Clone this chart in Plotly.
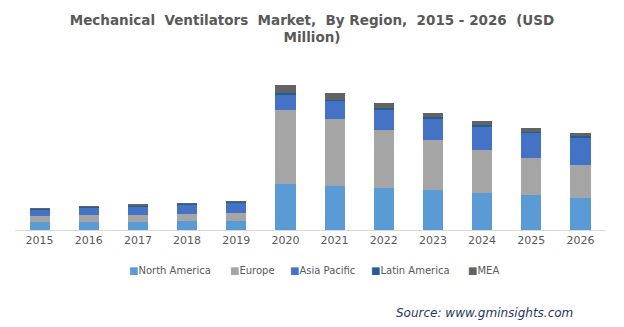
import plotly.graph_objects as go

years = ["2015", "2016", "2017", "2018", "2019", "2020", "2021", "2022", "2023", "2024", "2025", "2026"]
north_america = [400, 400, 400, 450, 450, 2300, 2200, 2100, 2000, 1850, 1750, 1600]
europe = [300, 350, 350, 350, 400, 3700, 3350, 2900, 2500, 2150, 1850, 1650]
asia_pacific = [300, 350, 420, 450, 500, 750, 900, 1000, 1050, 1150, 1250, 1350]
latin_america = [50, 50, 50, 50, 50, 120, 60, 100, 100, 100, 50, 100]
mea = [50, 50, 50, 50, 50, 380, 350, 250, 200, 200, 200, 150]

series = [
    ("North America", north_america, "#5B9BD5"),
    ("Europe", europe, "#A5A5A5"),
    ("Asia Pacific", asia_pacific, "#4472C4"),
    ("Latin America", latin_america, "#255E91"),
    ("MEA", mea, "#636363"),
]
# legend entry left edges (paper fraction)
legend_x = [0.1915, 0.3627, 0.4644, 0.6017, 0.7661]

fig = go.Figure()
for name, vals, color in series:
    fig.add_trace(go.Bar(x=years, y=vals, name=name,
                         marker=dict(color=color, line=dict(width=0))))

for (name, vals, color), lx in zip(series, legend_x):
    fig.add_annotation(
        text=f"<span style='color:{color}'>■</span>{name}",
        xref="paper", yref="paper", x=lx, y=-0.25, xanchor="left", yanchor="middle",
        showarrow=False, borderpad=0,
        font=dict(family="DejaVu Sans", size=10, color="#595959"),
    )

fig.update_layout(
    barmode="stack",
    bargap=0.59,
    width=624, height=327,
    margin=dict(l=15, r=19, t=70, b=97),
    paper_bgcolor="white", plot_bgcolor="white",
    font=dict(family="DejaVu Sans", color="#595959", size=11),
    title=dict(
        text="<b>Mechanical  Ventilators  Market,  By Region,  2015 - 2026  (USD<br>Million)</b>",
        x=0.5, xanchor="center", y=0.925, yanchor="top",
        font=dict(family="DejaVu Sans", size=13.5, color="#595959"),
    ),
    xaxis=dict(showline=True, linecolor="#D9D9D9", linewidth=1, ticks="", showgrid=False,
               tickfont=dict(size=11, color="#595959")),
    yaxis=dict(visible=False, range=[0, 8000]),
    showlegend=False,
)

fig.add_annotation(
    text="<i>Source: www.gminsights.com</i>",
    xref="paper", yref="paper", x=0.949, y=-0.52, xanchor="right", yanchor="middle",
    showarrow=False, font=dict(family="DejaVu Sans", size=12, color="#1F3864"),
)

fig.write_html("out.html")
